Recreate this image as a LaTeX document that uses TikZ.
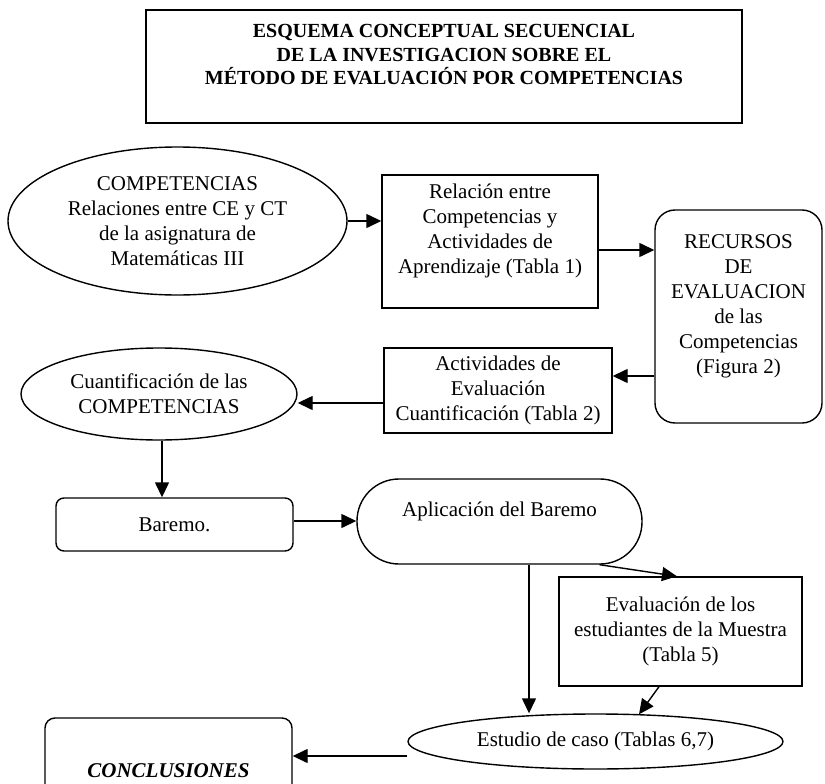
\documentclass[tikz,border=0pt]{standalone}
\usepackage{fontspec}
\setmainfont{Liberation Serif}
\usepackage{tikz}
\usetikzlibrary{shapes, calc, arrows.meta, positioning}

\begin{document}
\begin{tikzpicture}[->,>={Triangle[length=15pt,width=14pt]},x=1pt,y=-1pt,line width=1.4pt,
	font=\fontsize{21}{25}\selectfont]
	\tikzset{every node/.style={draw, align=center, inner sep=0pt},
		box/.style={rectangle, minimum width=#1},
		oval/.style={ellipse, minimum width=#1},
		soft/.style={rectangle, rounded corners=#1}}
	\useasboundingbox (0,0) rectangle (825,784);
	\node[box=596, minimum height=113, font=\fontsize{20}{23.5}\bfseries] (tit) at (444,66.5)
		{ESQUEMA CONCEPTUAL SECUENCIAL\\DE LA INVESTIGACION SOBRE EL\\MÉTODO DE EVALUACIÓN POR COMPETENCIAS\\~};
	\node[oval=339, minimum height=148] (comp) at (177.5,221)
		{COMPETENCIAS\\Relaciones entre CE y CT\\de la asignatura de\\Matemáticas III};
	\node[box=216, minimum height=133] (rel) at (490,241.5)
		{Relación entre\\Competencias y\\Actividades de\\Aprendizaje (Tabla 1)\\~};
	\node[soft=20pt, minimum width=167, minimum height=213] (rec) at (738.5,316.5)
		{RECURSOS\\DE\\EVALUACION\\de las\\Competencias\\(Figura 2)\\~};
	\node[box=228, minimum height=85] (act) at (498,390.5)
		{Actividades de\\Evaluación\\Cuantificación (Tabla 2)};
	\node[oval=276, minimum height=92] (cuan) at (159,394)
		{Cuantificación de las\\COMPETENCIAS};
	\node[soft=8pt, minimum width=237, minimum height=53] (bar) at (174.5,524.5) {Baremo.};
	\node[soft=42pt, minimum width=285, minimum height=85] (apl) at (499.5,521.5)
		{Aplicación del Baremo\\~};
	\node[box=243, minimum height=109] (eva) at (680.5,631.5)
		{Evaluación de los\\estudiantes de la Muestra\\(Tabla 5)};
	\node[oval=375, minimum height=55] (est) at (595.5,741.5) {Estudio de caso (Tablas 6,7)};
	\node[soft=10pt, minimum width=247, minimum height=94] (con) at (168.5,765)
		{~\\\textbf{\textit{CONCLUSIONES}}};
	\path
		(comp.east) edge (comp.east -| rel.west)
		([yshift=-8.5pt]rel.east) edge ([yshift=-8.5pt]rel.east -| rec.west)
		([yshift=-59.5pt]rec.west) edge ([yshift=-59.5pt]rec.west -| act.east)
		([yshift=-12.5pt]act.west) edge ([yshift=-12.5pt]act.west -| cuan.east)
		([xshift=3pt]cuan.south) edge ([xshift=3pt]cuan.south |- bar.north)
		([yshift=3.5pt]bar.east) edge ([yshift=3.5pt]bar.east -| apl.west)
		([xshift=100pt]apl.south) edge ([xshift=-3.5pt]eva.north)
		([xshift=29.5pt]apl.south) edge ([xshift=29.5pt]apl.south |- est.north)
		([xshift=-21.5pt]eva.south) edge ([xshift=43.5pt,yshift=-1pt]est.north)
		([yshift=-14.5pt]est.west) edge ([yshift=-14.5pt]est.west -| con.east);
\end{tikzpicture}
\end{document}
